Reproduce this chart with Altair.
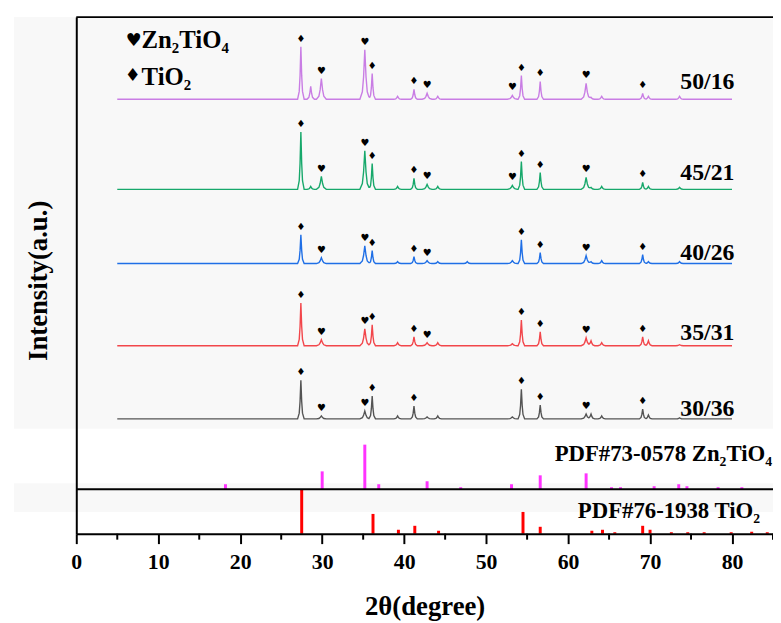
import altair as alt
import numpy as np
import pandas as pd

# ---------------- data ----------------
samples = ["30/36", "35/31", "40/26", "45/21", "50/16"]
sample_colors = ["#545454", "#f2464b", "#1f6fe6", "#17a86b", "#c97de4"]
baselines = [116, 190, 273, 348, 439]          # vertical stacking offset (a.u.)
label_lift = [3, 6, 4, 9, 10]

scan_range = [5, 80]

peak_pos = [27.4, 28.6, 29.9, 35.2, 36.1, 39.2, 41.2, 42.8, 44.1, 47.7,
            53.2, 54.3, 56.6, 62.2, 62.8, 64.1, 69.1, 69.8, 73.6]
peak_phase = ["T", "", "Z", "Z", "T", "", "T", "Z", "", "",
              "Z", "T", "T", "Z", "", "", "T", "", ""]

h_30_36 = [39, 0, 3, 8, 23, 3, 13, 2, 3, 0, 2, 30, 14, 5, 5, 3, 10, 4, 1]
h_35_31 = [43, 0, 6, 17, 21, 3, 9, 3, 3, 0, 2, 26, 14, 8, 5, 3, 9, 5, 1]
h_40_26 = [29, 0, 6, 18, 13, 2, 7, 3, 2, 2, 3, 24, 11, 8, 2, 3, 9, 2, 2]
h_45_21 = [58, 3, 13, 39, 26, 3, 11, 5, 3, 0, 4, 28, 17, 12, 2, 3, 7, 3, 2]
h_50_16 = [53, 13, 21, 50, 26, 3, 10, 6, 3, 0, 4, 24, 18, 16, 2, 3, 6, 3, 3]
heights = [h_30_36, h_35_31, h_40_26, h_45_21, h_50_16]

marks_30_36 = [27.4, 29.9, 35.2, 36.1, 41.2, 54.3, 56.6, 62.2, 69.1]
marks_35_31 = [27.4, 29.9, 35.2, 36.1, 41.2, 42.8, 54.3, 56.6, 62.2, 69.1]
marks_40_26 = [27.4, 29.9, 35.2, 36.1, 41.2, 42.8, 54.3, 56.6, 62.2, 69.1]
marks_45_21 = [27.4, 29.9, 35.2, 36.1, 41.2, 42.8, 53.2, 54.3, 56.6, 62.2, 69.1]
marks_50_16 = [27.4, 29.9, 35.2, 36.1, 41.2, 42.8, 53.2, 54.3, 56.6, 62.2, 69.1]
marked = [marks_30_36, marks_35_31, marks_40_26, marks_45_21, marks_50_16]

# reference patterns (stick heights, a.u.)
zn_pos = [18.2, 30.0, 35.2, 36.9, 42.8, 46.9, 53.1, 56.6, 62.2, 65.3, 66.4,
          70.5, 73.5, 74.5, 78.3, 81.2]
zn_h = [5, 18, 45, 5, 8, 2, 5, 14, 16, 2, 2, 3, 5, 3, 2, 2]
ti_pos = [27.5, 36.2, 39.3, 41.3, 44.2, 54.5, 56.6, 62.9, 64.2, 65.7, 69.1,
          70.0, 72.6, 74.6, 76.6, 79.9, 82.4, 84.3]
ti_h = [45, 20, 4, 8, 3, 22, 7, 3, 4, 1.5, 8, 4, 1.5, 1.5, 1.5, 1.5, 2, 1.5]
zn_base = 45
ti_base = 0

x_ticks = [0, 10, 20, 30, 40, 50, 60, 70, 80]
x_minor = [5, 15, 25, 35, 45, 55, 65, 75, 85]

# ---------------- layout / style ----------------
W, H = 704, 522
SERIF = "Liberation Serif"
SYM = "DejaVu Sans"
half_w = {"Z": 0.6, "T": 0.4, "": 0.45}
frac = [0.0, 0.25, 0.5, 1.0]
shape = [1.0, 0.45, 0.15, 0.0]

rows = []
for s, base, hs in zip(samples, baselines, heights):
    xs = set(scan_range)
    for p, ph, h in zip(peak_pos, peak_phase, hs):
        if h > 0:
            w = half_w[ph]
            for f in frac:
                xs.add(round(p - f * w, 4))
                xs.add(round(p + f * w, 4))
    for x in sorted(xs):
        if scan_range[0] <= x <= scan_range[1]:
            y = base
            for p, ph, h in zip(peak_pos, peak_phase, hs):
                w = half_w[ph]
                y += float(np.interp(abs(x - p), [f * w for f in frac],
                                     [v * h for v in shape], right=0.0))
            rows.append({"sample": s, "x": x, "y": y})
lines_df = pd.DataFrame(rows)

mk_rows = []
for s, base, hs, mk in zip(samples, baselines, heights, marked):
    for p in mk:
        i = peak_pos.index(p)
        mk_rows.append({"x": p, "y": base + hs[i] + 8,
                        "sym": "♥" if peak_phase[i] == "Z" else "♦"})
marks_df = pd.DataFrame(mk_rows)

labels_df = pd.DataFrame({"sample": samples, "x": [80.3] * 5,
                          "y": [b + l for b, l in zip(baselines, label_lift)]})

zn_df = pd.DataFrame({"x": zn_pos, "y": [zn_base] * len(zn_pos),
                      "y2": [zn_base + h for h in zn_h]})
ti_df = pd.DataFrame({"x": ti_pos, "y": [ti_base] * len(ti_pos),
                      "y2": [ti_base + h for h in ti_h]})
minor_df = pd.DataFrame({"x": x_minor})
one = pd.DataFrame({"a": [0]})

xscale = alt.Scale(domain=[0, 85], nice=False, zero=False)
yscale = alt.Scale(domain=[0, H], nice=False, zero=False)

xaxis = alt.Axis(values=x_ticks, format="d", grid=False, tickSize=10, tickWidth=2,
                 tickColor="black", domainColor="black", domainWidth=2,
                 labelFont=SERIF, labelFontWeight="bold", labelFontSize=22,
                 labelColor="black", labelBaseline="alphabetic", labelPadding=25,
                 labelFlush=False, zindex=2,
                 title="2θ(degree)", titleFont=SERIF, titleFontWeight="bold",
                 titleFontSize=27, titleColor="black", titleBaseline="alphabetic",
                 titleY=82, titleX=W / 2, titleAlign="center")
yaxis = alt.Axis(labels=False, ticks=False, grid=False, domainColor="black",
                 domainWidth=2, zindex=2, title="Intensity(a.u.)", titleFont=SERIF,
                 titleFontWeight="bold", titleFontSize=27, titleColor="black",
                 titleAngle=-90, titleAlign="center", titleBaseline="alphabetic",
                 titleX=-30, titleY=266)

bg1 = alt.Chart(one).mark_rect(color="#f8f8f8").encode(
    x=alt.value(-63), x2=alt.value(W), y=alt.value(0), y2=alt.value(416))
bg2 = alt.Chart(one).mark_rect(color="#f8f8f8").encode(
    x=alt.value(-63), x2=alt.value(W), y=alt.value(471), y2=alt.value(500))

curves = alt.Chart(lines_df).mark_line(strokeWidth=1.4).encode(
    x=alt.X("x:Q", scale=xscale, axis=xaxis),
    y=alt.Y("y:Q", scale=yscale, axis=yaxis),
    color=alt.Color("sample:N", scale=alt.Scale(domain=samples, range=sample_colors),
                    legend=None),
    detail="sample:N",
    order="x:Q",
)

zn_sticks = alt.Chart(zn_df).mark_rule(strokeWidth=3, color="#ff33ff").encode(
    x="x:Q", y="y:Q", y2="y2:Q")
ti_sticks = alt.Chart(ti_df).mark_rule(strokeWidth=3, color="#ff0000").encode(
    x="x:Q", y="y:Q", y2="y2:Q")

sep = alt.Chart(one).mark_rule(strokeWidth=2, color="black").encode(
    y=alt.datum(zn_base), x=alt.value(0), x2=alt.value(W))
top = alt.Chart(one).mark_rule(strokeWidth=2, color="black").encode(
    y=alt.value(0), x=alt.value(0), x2=alt.value(W))
minor = alt.Chart(minor_df).mark_rule(strokeWidth=2, color="black").encode(
    x="x:Q", y=alt.value(H), y2=alt.value(H + 6))

sym = alt.Chart(marks_df).mark_text(font=SYM, fontSize=10, color="black",
                                    baseline="middle", align="center").encode(
    x="x:Q", y="y:Q", text="sym:N")

lab = alt.Chart(labels_df).mark_text(font=SERIF, fontWeight="bold", fontSize=24,
                                     color="black", align="right",
                                     baseline="alphabetic").encode(
    x="x:Q", y="y:Q", text="sample:N")

pdf1 = alt.Chart(one).mark_text(font=SERIF, fontWeight="bold", fontSize=23,
                                color="black", align="right", baseline="alphabetic",
                                text="PDF#73-0578 Zn₂TiO₄").encode(
    x=alt.value(W - 1), y=alt.datum(73))
pdf2 = alt.Chart(one).mark_text(font=SERIF, fontWeight="bold", fontSize=23,
                                color="black", align="right", baseline="alphabetic",
                                text="PDF#76-1938 TiO₂").encode(
    x=alt.value(W - 13), y=alt.datum(16))

leg_sym1 = alt.Chart(one).mark_text(font=SYM, fontSize=18, color="black",
                                    align="center", baseline="middle", text="♥").encode(
    x=alt.value(58), y=alt.value(24))
leg_sym2 = alt.Chart(one).mark_text(font=SYM, fontSize=18, color="black",
                                    align="center", baseline="middle", text="♦").encode(
    x=alt.value(57), y=alt.value(60))
leg_t1 = alt.Chart(one).mark_text(font=SERIF, fontWeight="bold", fontSize=25,
                                  color="black", align="left", baseline="alphabetic",
                                  text="Zn₂TiO₄").encode(
    x=alt.value(66), y=alt.value(31))
leg_t2 = alt.Chart(one).mark_text(font=SERIF, fontWeight="bold", fontSize=25,
                                  color="black", align="left", baseline="alphabetic",
                                  text="TiO₂").encode(
    x=alt.value(66), y=alt.value(69))

chart = alt.layer(
    bg1, bg2, curves, zn_sticks, ti_sticks, sep, top, minor, sym, lab,
    pdf1, pdf2, leg_sym1, leg_sym2, leg_t1, leg_t2
).properties(
    width=W, height=H, autosize="none",
    padding={"left": 69, "top": 6, "right": 0, "bottom": 87},
    background="white",
).configure_view(stroke=None)

chart.save("out.html", embed_options={"renderer": "svg", "actions": False})
